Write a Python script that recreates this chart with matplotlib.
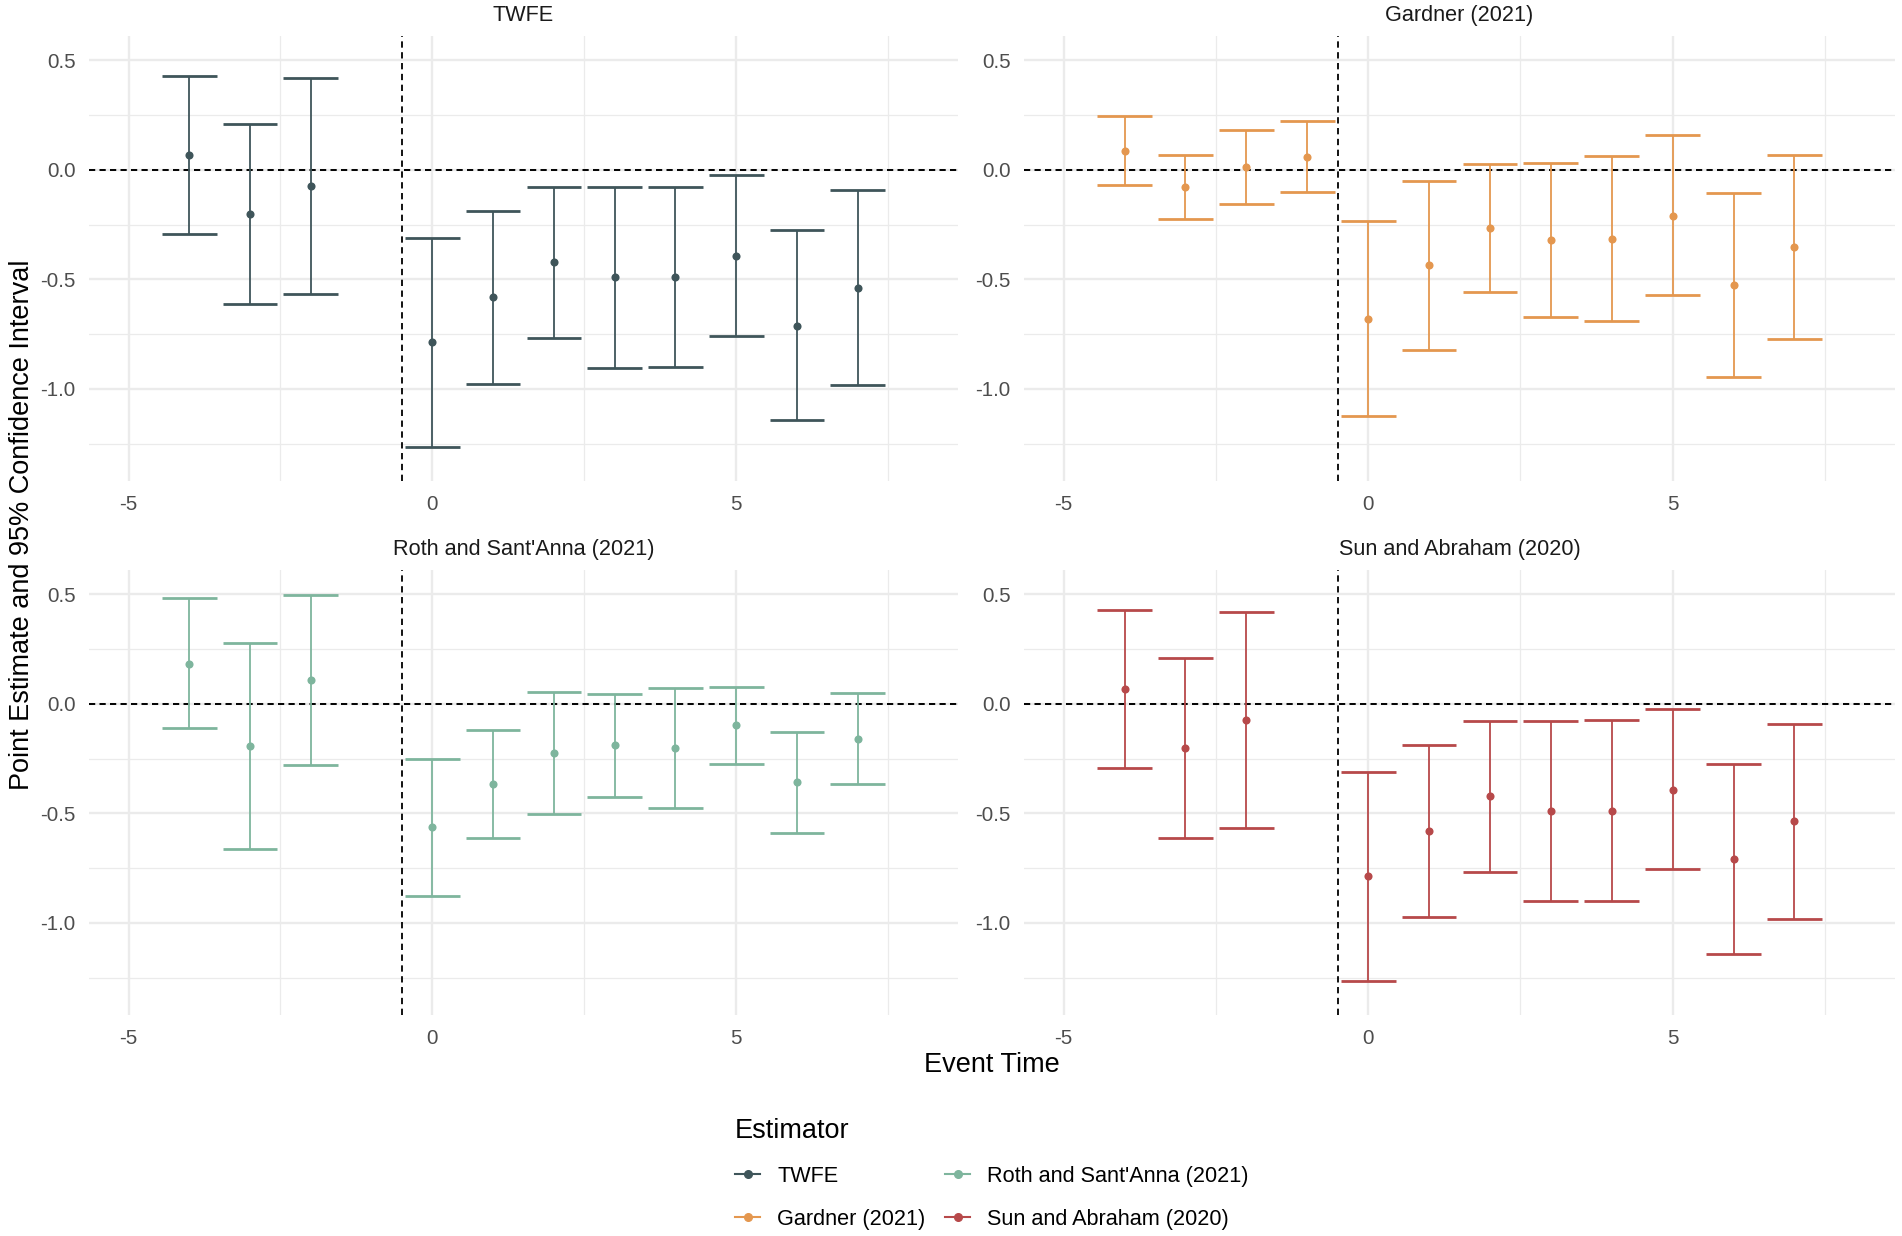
import numpy as np
import matplotlib
matplotlib.use("Agg")
import matplotlib.pyplot as plt
from matplotlib.lines import Line2D

# ------------------------------------------------------------------------------
# data
# ------------------------------------------------------------------------------
twfe_time = [-4, -3, -2, 0, 1, 2, 3, 4, 5, 6, 7]
twfe_est = [0.067, -0.202, -0.073, -0.787, -0.582, -0.422, -0.491, -0.489, -0.392, -0.711, -0.538]
twfe_lo = [-0.295, -0.612, -0.567, -1.264, -0.976, -0.766, -0.903, -0.901, -0.757, -1.144, -0.982]
twfe_hi = [0.429, 0.210, 0.418, -0.310, -0.188, -0.078, -0.078, -0.078, -0.024, -0.274, -0.093]

gard_time = [-4, -3, -2, -1, 0, 1, 2, 3, 4, 5, 6, 7]
gard_est = [0.087, -0.079, 0.014, 0.059, -0.679, -0.436, -0.266, -0.321, -0.315, -0.210, -0.526, -0.351]
gard_lo = [-0.071, -0.223, -0.157, -0.103, -1.122, -0.822, -0.556, -0.670, -0.691, -0.571, -0.944, -0.771]
gard_hi = [0.246, 0.065, 0.179, 0.222, -0.233, -0.050, 0.027, 0.030, 0.064, 0.157, -0.106, 0.068]

roth_time = [-4, -3, -2, 0, 1, 2, 3, 4, 5, 6, 7]
roth_est = [0.182, -0.192, 0.107, -0.563, -0.366, -0.224, -0.190, -0.202, -0.099, -0.359, -0.159]
roth_lo = [-0.111, -0.662, -0.281, -0.875, -0.611, -0.501, -0.424, -0.475, -0.273, -0.589, -0.364]
roth_hi = [0.480, 0.276, 0.494, -0.250, -0.119, 0.055, 0.046, 0.073, 0.076, -0.128, 0.047]

sun_time = [-4, -3, -2, 0, 1, 2, 3, 4, 5, 6, 7]
sun_est = [0.065, -0.202, -0.075, -0.787, -0.582, -0.421, -0.489, -0.488, -0.392, -0.709, -0.537]
sun_lo = [-0.294, -0.611, -0.566, -1.263, -0.974, -0.766, -0.902, -0.899, -0.754, -1.143, -0.980]
sun_hi = [0.428, 0.210, 0.418, -0.311, -0.190, -0.078, -0.078, -0.076, -0.024, -0.275, -0.093]

names = ["TWFE", "Gardner (2021)", "Roth and Sant'Anna (2021)", "Sun and Abraham (2020)"]
colors = ["#3F555A", "#E4974F", "#7EB59D", "#B7494A"]

panels = [
    (twfe_time, twfe_est, twfe_lo, twfe_hi),
    (gard_time, gard_est, gard_lo, gard_hi),
    (roth_time, roth_est, roth_lo, roth_hi),
    (sun_time, sun_est, sun_lo, sun_hi),
]

# ------------------------------------------------------------------------------
# figure
# ------------------------------------------------------------------------------
plt.rcParams['font.family'] = ['Liberation Sans', 'DejaVu Sans']

W, H = 1902, 1236
fig = plt.figure(figsize=(W / 100, H / 100), dpi=100)
fig.patch.set_facecolor("white")

# panel boxes in pixels: left, right, top, bottom
boxes = [
    (89, 958, 36, 481),
    (1024, 1895, 36, 481),
    (89, 958, 570, 1015),
    (1024, 1895, 570, 1015),
]

grid_col = "#EBEBEB"

for i, (t, est, lo, hi) in enumerate(panels):
    l, r, top, b = boxes[i]
    ax = fig.add_axes([l / W, 1 - b / H, (r - l) / W, (b - top) / H])
    ax.set_xlim(-5.65, 8.65)
    ax.set_ylim(-1.42, 0.61)
    for s in ax.spines.values():
        s.set_visible(False)

    ax.set_xticks([-5, 0, 5])
    ax.set_xticks([-2.5, 2.5, 7.5], minor=True)
    ax.set_yticks([-1.0, -0.5, 0.0, 0.5])
    ax.set_yticks([-1.25, -0.75, -0.25, 0.25], minor=True)
    ax.set_yticklabels(["-1.0", "-0.5", "0.0", "0.5"])
    ax.set_xticklabels(["-5", "0", "5"])
    ax.tick_params(which="both", length=0)
    ax.tick_params(axis="x", pad=10, labelsize=14.8, labelcolor="#4D4D4D")
    ax.tick_params(axis="y", pad=9.5, labelsize=14.8, labelcolor="#4D4D4D")
    ax.grid(which="major", color=grid_col, linewidth=1.7)
    ax.grid(which="minor", color=grid_col, linewidth=0.9)
    ax.set_axisbelow(True)

    ax.axhline(0, color="black", linewidth=1.4, dashes=(3.2, 2.2), zorder=1)
    ax.axvline(-0.5, color="black", linewidth=1.3, dashes=(3.5, 2.5), zorder=1)

    c = colors[i]
    t = np.array(t)
    ax.vlines(t, lo, hi, color=c, linewidth=1.3, zorder=2)
    ax.hlines(lo, t - 0.45, t + 0.45, color=c, linewidth=2.0, zorder=2)
    ax.hlines(hi, t - 0.45, t + 0.45, color=c, linewidth=2.0, zorder=2)
    ax.scatter(t, est, s=34, color=c, zorder=3, linewidths=0)

    ax.annotate(names[i], xy=(0.5, 1), xycoords="axes fraction",
                xytext=(0, 15), textcoords="offset points",
                ha="center", va="center", fontsize=15.6, color="#1A1A1A")

# axis titles
fig.text(992 / W, 1 - 1065 / H, "Event Time", ha="center", va="center", fontsize=19.5)
fig.text(22 / W, 1 - 525 / H, "Point Estimate and 95% Confidence Interval",
         ha="center", va="center", rotation=90, fontsize=19.5)

# legend
handles = [Line2D([0], [0], color=c, linewidth=1.5, marker="o", markersize=5.5)
           for c in colors]
leg = fig.legend(handles, names, ncol=2, loc="center",
                 bbox_to_anchor=(992 / W, 1 - 1174 / H),
                 frameon=False, fontsize=15.6, title="Estimator",
                 title_fontsize=19.5, alignment="left",
                 handlelength=1.15, handletextpad=0.8, columnspacing=0.9,
                 labelspacing=1.0)

fig.savefig("out.png", dpi=100, facecolor="white")
